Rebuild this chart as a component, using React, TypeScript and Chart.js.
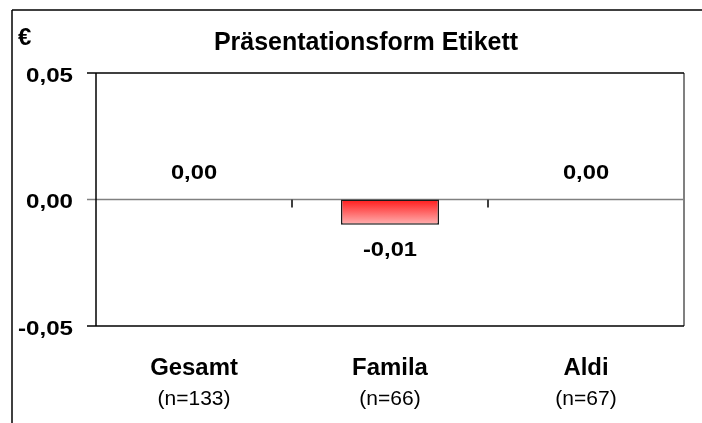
import React, { useEffect, useRef } from 'react';
import { Chart, registerables } from 'chart.js';

Chart.register(...registerables);

// ---- data ----
const categories = ['Gesamt', 'Famila', 'Aldi'];
const sampleSizes = ['(n=133)', '(n=66)', '(n=67)'];
const values = [0.0, -0.01, 0.0];
const yTickValues = [0.05, 0, -0.05];
const yMin = -0.05;
const yMax = 0.05;
const titleText = 'Präsentationsform Etikett';
const unitText = '€';

const FONT = '"Liberation Sans", Arial, Helvetica, sans-serif';

function fmt(v: number): string {
  const s = Math.abs(v) < 1e-9 ? '0.00' : v.toFixed(2);
  return s.replace('.', ',');
}

function drawText(
  ctx: CanvasRenderingContext2D,
  text: string,
  x: number,
  y: number,
  size: number,
  bold: boolean,
  align: CanvasTextAlign,
  sx = 1
) {
  ctx.save();
  ctx.font = `${bold ? 'bold ' : ''}${size}px ${FONT}`;
  ctx.textBaseline = 'alphabetic';
  ctx.textAlign = align;
  ctx.fillStyle = '#000000';
  ctx.translate(x, y);
  ctx.scale(sx, 1);
  ctx.fillText(text, 0, 0);
  ctx.restore();
}

function line(ctx: CanvasRenderingContext2D, x1: number, y1: number, x2: number, y2: number, color: string, w: number) {
  ctx.save();
  ctx.strokeStyle = color;
  ctx.lineWidth = w;
  ctx.beginPath();
  ctx.moveTo(x1, y1);
  ctx.lineTo(x2, y2);
  ctx.stroke();
  ctx.restore();
}

const decorPlugin = {
  id: 'excelDecor',
  beforeDatasetsDraw(chart: any) {
    const { ctx, chartArea: a, scales } = chart;
    const x = scales.x;
    const y = scales.y;
    // outer frame
    line(ctx, 12, 10, 12, 430, '#000000', 1.5);
    line(ctx, 12, 10, 710, 10, '#000000', 1.5);
    // plot frame
    line(ctx, a.right, a.top, a.right, a.bottom, '#808080', 2);
    // zero line (category axis)
    const y0 = y.getPixelForValue(0);
    line(ctx, a.left - 9, y0, a.right, y0, '#808080', 1.5);
    // category tick marks
    for (let i = 1; i < categories.length; i++) {
      const xb = (x.getPixelForValue(i - 1) + x.getPixelForValue(i)) / 2;
      line(ctx, xb, y0, xb, y0 + 8, '#404040', 2);
    }
    // top/bottom frame and value-axis ticks
    yTickValues.forEach((v) => {
      const py = y.getPixelForValue(v);
      if (Math.abs(v) < 1e-9) return;
      line(ctx, a.left - 9, py, a.right, py, '#000000', 1.5);
    });
    // value axis
    line(ctx, a.left, a.top, a.left, a.bottom, '#000000', 1.5);
  },
  afterDatasetsDraw(chart: any) {
    const { ctx, chartArea: a, scales } = chart;
    const x = scales.x;
    const y = scales.y;
    // title & unit
    drawText(ctx, titleText, 366, 50, 25, true, 'center', 1);
    drawText(ctx, unitText, 18, 45, 24, true, 'left', 1.0);
    // y tick labels
    yTickValues.forEach((v) => {
      const py = y.getPixelForValue(v);
      drawText(ctx, fmt(v), a.left - 23, py + 8.5, 21, true, 'right', 1.15);
    });
    // data labels
    values.forEach((v, i) => {
      const px = x.getPixelForValue(i);
      const py = y.getPixelForValue(v);
      const by = v >= 0 ? py - 21 : py + 31;
      drawText(ctx, fmt(v), px, by, 21, true, 'center', 1.13);
    });
    // category labels
    categories.forEach((c, i) => {
      const px = x.getPixelForValue(i);
      drawText(ctx, c, px, 375, 23, true, 'center', 1.04);
      drawText(ctx, sampleSizes[i], px, 405, 20, false, 'center', 1.05);
    });
  },
};

export default function App() {
  const canvasRef = useRef<HTMLCanvasElement | null>(null);

  useEffect(() => {
    const canvas = canvasRef.current;
    if (!canvas) return;
    const chart = new Chart(canvas, {
      type: 'bar',
      data: {
        labels: categories,
        datasets: [
          {
            data: values,
            backgroundColor: (c: any) => {
              const ch = c.chart;
              if (!ch.chartArea) return '#ff4040';
              const ys = ch.scales.y;
              const v = typeof c.raw === 'number' ? c.raw : 0;
              const p0 = ys.getPixelForValue(0);
              const p1 = ys.getPixelForValue(v);
              const top = Math.min(p0, p1);
              const bot = Math.max(p0, p1);
              if (bot - top < 1) return '#ff4040';
              const g = ch.ctx.createLinearGradient(0, top, 0, bot);
              g.addColorStop(0, '#ff1a1a');
              g.addColorStop(1, '#ffb3b3');
              return g;
            },
            borderColor: '#1a1a1a',
            borderWidth: (c: any) => (typeof c.raw === 'number' && Math.abs(c.raw) > 1e-9 ? 1.5 : 0),
            borderSkipped: false,
            barPercentage: 0.5,
            categoryPercentage: 1,
          },
        ],
      },
      options: {
        responsive: false,
        animation: false,
        devicePixelRatio: 1,
        layout: { padding: { left: 96, top: 73, right: 18, bottom: 97 } },
        plugins: {
          legend: { display: false },
          title: { display: false },
          tooltip: { enabled: false },
        },
        scales: {
          x: { display: false, offset: true },
          y: { display: false, min: yMin, max: yMax },
        },
      },
      plugins: [decorPlugin],
    });
    return () => chart.destroy();
  }, []);

  return (
    <div style={{ position: 'fixed', left: 0, top: 0, width: 702, height: 423, background: '#ffffff' }}>
      <canvas ref={canvasRef} width={702} height={423} style={{ display: 'block' }} />
    </div>
  );
}
